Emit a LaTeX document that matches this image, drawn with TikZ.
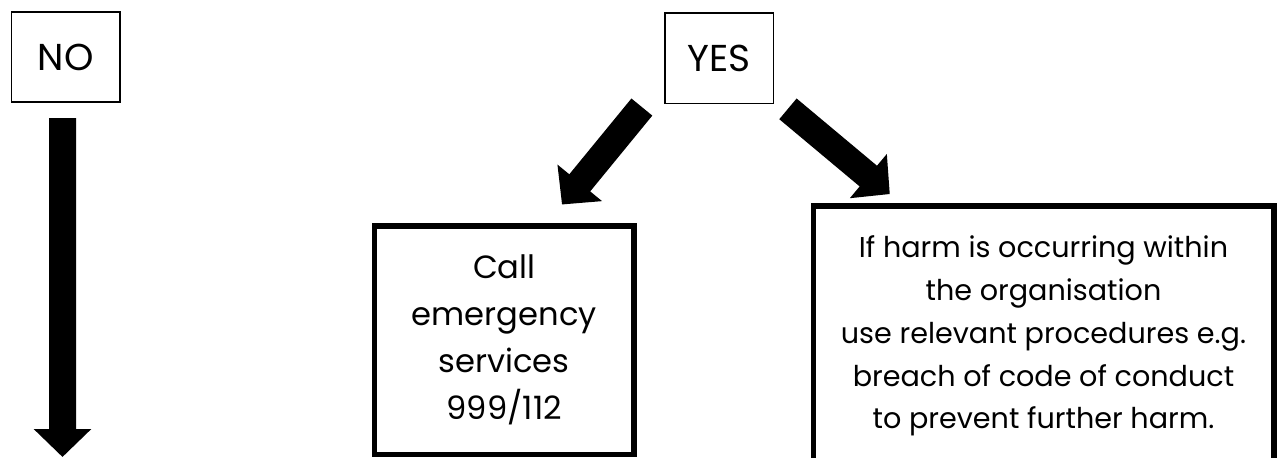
\documentclass[tikz,border=0pt]{standalone}
\usepackage{fontspec}
\setmainfont{Poppins}
\usepackage{tikz}
\usetikzlibrary{arrows.meta}
\tikzstyle{choice} = [draw, line width=0.9pt, minimum width=2.17cm, minimum height=1.81cm, inner sep=0pt, font=\fontsize{21.3}{26}\selectfont]
\tikzstyle{action} = [draw, line width=0.11cm, inner sep=0pt, align=center]
\tikzstyle{fat} = [line width=0.54cm, -{Triangle[width=1.12cm,length=0.56cm]}]

\begin{document}
\begin{tikzpicture}
  \clip (0,0) rectangle (25.6,9.14);
  \node (no) at (1.314,8.0) [choice] {NO};
  \node (yes) at (14.384,7.974) [choice] {YES};
  \node (call) at (10.084,2.34) [action, minimum width=5.19cm, minimum height=4.57cm,
    font=\fontsize{18.3}{26.7}\selectfont] {Call\\emergency\\services\\999/112};
  \node (harm) at (20.87,2.42) [action, minimum width=9.21cm, minimum height=5.2cm,
    font=\fontsize{16.3}{24.4}\selectfont] {If harm is occurring within\\the organisation\\use relevant procedures e.g.\\breach of code of conduct\\to prevent further harm.};
  \coordinate (noend) at (1.25,0);
  \draw [fat] ([shift={(-0.064,-0.3)}]no.south) to (noend);
  \draw [fat] ([shift={(-0.446,-0.054)}]yes.south west) to ([shift={(-1.494,0.37)}]call.north east);
  \draw [fat] ([shift={(0.274,-0.09)}]yes.south east) to ([shift={(1.586,0.184)}]harm.north west);
\end{tikzpicture}
\end{document}
